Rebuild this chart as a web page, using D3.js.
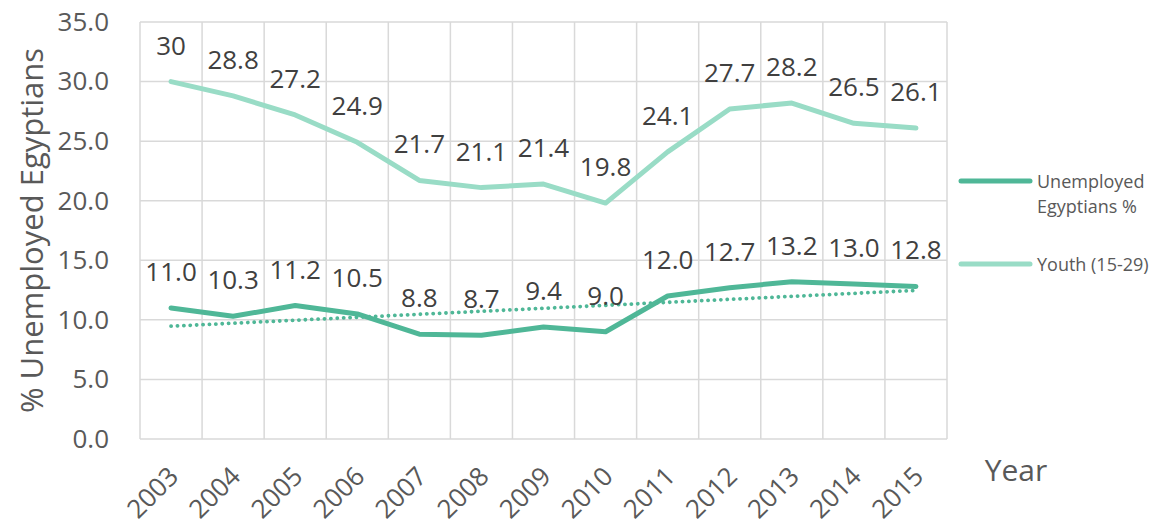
<!DOCTYPE html>
<html>
<head>
<meta charset="utf-8">
<script src="https://cdn.jsdelivr.net/npm/d3@7"></script>
<style>
  body { margin: 0; background: #fff; }
  svg { font-family: "Open Sans", "Noto Sans", sans-serif; }
</style>
</head>
<body>
<div id="viz"></div>
<script>
// chart data
var years = ['2003', '2004', '2005', '2006', '2007', '2008', '2009', '2010', '2011', '2012', '2013', '2014', '2015'];
var unemployed = [11.0, 10.3, 11.2, 10.5, 8.8, 8.7, 9.4, 9.0, 12.0, 12.7, 13.2, 13.0, 12.8];
var youth = [30, 28.8, 27.2, 24.9, 21.7, 21.1, 21.4, 19.8, 24.1, 27.7, 28.2, 26.5, 26.1];
var youthLabels = ['30', '28.8', '27.2', '24.9', '21.7', '21.1', '21.4', '19.8', '24.1', '27.7', '28.2', '26.5', '26.1'];
var yTicks = [0, 5, 10, 15, 20, 25, 30, 35];

var W = 1159, H = 526,
    margin = { top: 22, left: 140, right: 212, bottom: 87 },
    width = W - margin.left - margin.right,
    height = H - margin.top - margin.bottom;

var colDark = '#4fb797',
    colLight = '#99dcc6',
    gridCol = '#d9d9d9',
    textCol = '#404040',
    axisCol = '#595959';

var svg = d3.select('#viz').append('svg')
    .attr('width', W)
    .attr('height', H);

var g = svg.append('g')
    .attr('transform', 'translate(' + margin.left + ',' + margin.top + ')');

var x = d3.scaleBand().domain(years).range([0, width]);
var y = d3.scaleLinear().domain([0, 35]).range([height, 0]);
var cx = function(d, i) { return x(years[i]) + x.bandwidth() / 2; };

// horizontal grid
g.append('g').selectAll('line').data(yTicks).enter().append('line')
    .attr('x1', 0).attr('x2', width)
    .attr('y1', function(d) { return y(d); })
    .attr('y2', function(d) { return y(d); })
    .attr('stroke', gridCol).attr('stroke-width', 1.5);

// vertical grid at band edges
var edges = years.map(function(d) { return x(d); }).concat([width]);
g.append('g').selectAll('line').data(edges).enter().append('line')
    .attr('x1', function(d) { return d; }).attr('x2', function(d) { return d; })
    .attr('y1', 0).attr('y2', height)
    .attr('stroke', gridCol).attr('stroke-width', 1.5);

// y axis labels
var yAxis = d3.axisLeft(y).tickValues(yTicks).tickFormat(d3.format('.1f')).tickSize(0).tickPadding(31);
g.append('g').call(yAxis)
    .call(function(s) { s.select('.domain').remove(); })
    .selectAll('text')
    .attr('fill', axisCol)
    .attr('font-size', 26)
    .attr('font-family', '"Open Sans", sans-serif');

// x axis labels
var xAxis = d3.axisBottom(x).tickSize(0);
g.append('g').attr('transform', 'translate(0,' + height + ')').call(xAxis)
    .call(function(s) { s.select('.domain').remove(); })
    .selectAll('text')
    .attr('fill', axisCol)
    .attr('font-size', 26)
    .attr('font-family', '"Open Sans", sans-serif')
    .attr('text-anchor', 'end')
    .attr('dy', 0)
    .attr('y', 0)
    .attr('transform', 'translate(9,39) rotate(-45)');

// trend line (least squares on unemployed)
var n = unemployed.length,
    mx = d3.mean(d3.range(n)),
    my = d3.mean(unemployed),
    sxy = d3.sum(unemployed, function(d, i) { return (i - mx) * (d - my); }),
    sxx = d3.sum(d3.range(n), function(i) { return (i - mx) * (i - mx); }),
    slope = sxy / sxx,
    icpt = my - slope * mx;
var trend = d3.range(n).map(function(i) { return icpt + slope * i; });

var line = d3.line()
    .x(cx)
    .y(function(d) { return y(d); });

g.append('path').datum(trend)
    .attr('d', line)
    .attr('fill', 'none')
    .attr('stroke', colDark)
    .attr('stroke-width', 3.8)
    .attr('stroke-linecap', 'round')
    .attr('stroke-dasharray', '0.1 6.3');

g.append('path').datum(youth)
    .attr('d', line)
    .attr('fill', 'none')
    .attr('stroke', colLight)
    .attr('stroke-width', 5)
    .attr('stroke-linejoin', 'round')
    .attr('stroke-linecap', 'round');

g.append('path').datum(unemployed)
    .attr('d', line)
    .attr('fill', 'none')
    .attr('stroke', colDark)
    .attr('stroke-width', 5)
    .attr('stroke-linejoin', 'round')
    .attr('stroke-linecap', 'round');

// data labels
g.append('g').selectAll('text').data(youth).enter().append('text')
    .attr('x', cx)
    .attr('y', function(d) { return y(d) - 27; })
    .attr('text-anchor', 'middle')
    .attr('font-size', 26)
    .attr('fill', textCol)
    .text(function(d, i) { return youthLabels[i]; });

g.append('g').selectAll('text').data(unemployed).enter().append('text')
    .attr('x', cx)
    .attr('y', function(d) { return y(d) - 27; })
    .attr('text-anchor', 'middle')
    .attr('font-size', 26)
    .attr('fill', textCol)
    .text(function(d) { return d.toFixed(1); });

// axis titles
svg.append('text')
    .attr('transform', 'translate(43,' + (margin.top + height / 2) + ') rotate(-90)')
    .attr('text-anchor', 'middle')
    .attr('font-size', 31)
    .attr('fill', axisCol)
    .text('% Unemployed Egyptians');

svg.append('text')
    .attr('x', 1016).attr('y', 481)
    .attr('text-anchor', 'middle')
    .attr('font-size', 30)
    .attr('fill', axisCol)
    .text('Year');

// legend
var legend = svg.append('g');
legend.append('line')
    .attr('x1', 961).attr('x2', 1030).attr('y1', 181).attr('y2', 181)
    .attr('stroke', colDark).attr('stroke-width', 5).attr('stroke-linecap', 'round');
legend.append('text')
    .attr('x', 1037).attr('y', 188)
    .attr('font-size', 18).attr('fill', axisCol)
    .text('Unemployed');
legend.append('text')
    .attr('x', 1037).attr('y', 213)
    .attr('font-size', 18).attr('fill', axisCol)
    .text('Egyptians %');
legend.append('line')
    .attr('x1', 961).attr('x2', 1030).attr('y1', 264).attr('y2', 264)
    .attr('stroke', colLight).attr('stroke-width', 5).attr('stroke-linecap', 'round');
legend.append('text')
    .attr('x', 1037).attr('y', 271)
    .attr('font-size', 18).attr('fill', axisCol)
    .text('Youth (15-29)');
</script>
</body>
</html>
